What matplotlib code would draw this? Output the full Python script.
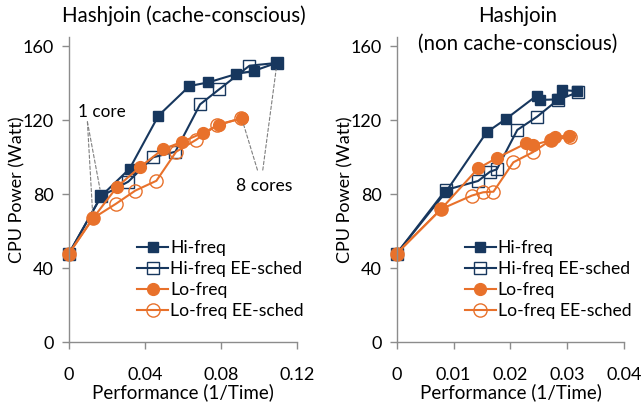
import numpy as np
import matplotlib.pyplot as plt

plt.rcParams['font.family'] = ['Lato', 'DejaVu Sans']

# idle point followed by 1..8 cores
# Hashjoin, cache-conscious
cc_hi_x = [0, 0.0170, 0.0319, 0.0471, 0.0634, 0.0734, 0.0880, 0.0976, 0.1095]
cc_hi_y = [48, 79.1, 93.8, 122.5, 138.5, 140.5, 145.0, 146.8, 151.1]
cc_hiee_x = [0, 0.0170, 0.0312, 0.0443, 0.0560, 0.0690, 0.0790, 0.0950, 0.1095]
cc_hiee_y = [48, 79.0, 86.8, 100.0, 103.0, 128.6, 136.7, 149.5, 151.0]
cc_lo_x = [0, 0.0126, 0.0254, 0.0372, 0.0494, 0.0596, 0.0708, 0.0787, 0.0909]
cc_lo_y = [48, 67.0, 84.1, 94.6, 104.3, 108.4, 113.3, 117.5, 121.1]
cc_loee_x = [0, 0.0126, 0.0249, 0.0349, 0.0460, 0.0564, 0.0670, 0.0780, 0.0906]
cc_loee_y = [48, 67.0, 75.0, 82.0, 87.3, 103.0, 109.5, 117.5, 121.0]

# Hashjoin, non cache-conscious
ncc_hi_x = [0, 0.0086, 0.0158, 0.0192, 0.0246, 0.0251, 0.0283, 0.0290, 0.0317]
ncc_hi_y = [48, 81.1, 113.5, 120.7, 133.3, 131.0, 131.3, 136.4, 135.7]
ncc_hiee_x = [0, 0.0086, 0.0143, 0.0164, 0.0176, 0.0212, 0.0247, 0.0283, 0.0318]
ncc_hiee_y = [48, 82.3, 87.2, 92.2, 93.5, 114.8, 122.0, 131.0, 135.1]
ncc_lo_x = [0, 0.0078, 0.0143, 0.0177, 0.0228, 0.0239, 0.0272, 0.0278, 0.0303]
ncc_lo_y = [48, 72.0, 94.0, 99.8, 107.6, 106.6, 109.3, 111.1, 111.7]
ncc_loee_x = [0, 0.0078, 0.0132, 0.0152, 0.0170, 0.0205, 0.0239, 0.0271, 0.0305]
ncc_loee_y = [48, 72.0, 79.3, 81.1, 81.4, 97.3, 102.7, 109.3, 111.1]

labels = ['Hi-freq', 'Hi-freq EE-sched', 'Lo-freq', 'Lo-freq EE-sched']
navy = '#17375E'
orange = '#E8712B'
grey = '#8C8C8C'

fig = plt.figure(figsize=(6.41, 4.09), dpi=100)
ax1 = fig.add_axes([0.1076, 0.163, 0.3557, 0.7465])
ax2 = fig.add_axes([0.6189, 0.163, 0.3550, 0.7465])


def draw(ax, series, xmax, xticks):
    styles = [
        dict(color=navy, marker='s', ms=7, mfc=navy, mec=navy),
        dict(color=navy, marker='s', ms=9, mfc='none', mec=navy, mew=1.0),
        dict(color=orange, marker='o', ms=8.5, mfc=orange, mec=orange),
        dict(color=orange, marker='o', ms=9.5, mfc='none', mec=orange, mew=1.0),
    ]
    for (x, y), st, lab in zip(series, styles, labels):
        ax.plot(x, y, lw=1.5, label=lab, clip_on=False, **st)
    ax.set_xlim(0, xmax)
    ax.set_ylim(0, 165)
    ax.set_yticks([0, 40, 80, 120, 160])
    ax.set_xticks(xticks)
    ax.set_xticklabels(['0' if t == 0 else f'{t:.2f}' for t in xticks])
    for s in ['top', 'right']:
        ax.spines[s].set_visible(False)
    for s in ['left', 'bottom']:
        ax.spines[s].set_color(grey)
        ax.spines[s].set_linewidth(1.0)
    ax.spines['bottom'].set_bounds(0, xmax)
    ax.tick_params(axis='y', length=5, width=1, color=grey, labelsize=13, pad=6)
    ax.tick_params(axis='x', length=5, width=1, color=grey, labelsize=13, pad=13)
    ax.set_xlabel('Performance (1/Time)', fontsize=13.5, labelpad=0)
    ax.set_ylabel('CPU Power (Watt)', fontsize=13, labelpad=-2)
    ax.legend(loc='lower left', bbox_to_anchor=(0.30, 0.075), frameon=False,
              fontsize=12.6, handlelength=1.75, handletextpad=0.12,
              labelspacing=0.3, borderaxespad=0, borderpad=0)


draw(ax1, [(cc_hi_x, cc_hi_y), (cc_hiee_x, cc_hiee_y), (cc_lo_x, cc_lo_y), (cc_loee_x, cc_loee_y)],
     0.12, [0, 0.04, 0.08, 0.12])
draw(ax2, [(ncc_hi_x, ncc_hi_y), (ncc_hiee_x, ncc_hiee_y), (ncc_lo_x, ncc_lo_y), (ncc_loee_x, ncc_loee_y)],
     0.04, [0, 0.01, 0.02, 0.03, 0.04])

fig.text(0.286, 0.962, 'Hashjoin (cache-conscious)', ha='center', va='center', fontsize=14.8)
fig.text(0.807, 0.962, 'Hashjoin', ha='center', va='center', fontsize=14.8)
fig.text(0.807, 0.893, '(non cache-conscious)', ha='center', va='center', fontsize=14.8)

# core-count callouts on the cache-conscious plot
dash = dict(arrowstyle='-', ls=(0, (3, 2)), color='#7F7F7F', lw=0.8, shrinkA=0, shrinkB=5)
ax1.text(0.0046, 124.5, '1 core', fontsize=12.3, va='center', ha='left')
ax1.annotate('', xy=(cc_hi_x[1], cc_hi_y[1]), xytext=(0.0097, 119.2), arrowprops=dash)
ax1.annotate('', xy=(cc_lo_x[1], cc_lo_y[1]), xytext=(0.0097, 119.2), arrowprops=dash)
ax1.text(0.103, 84.5, '8 cores', fontsize=12.6, va='center', ha='center')
ax1.annotate('', xy=(cc_lo_x[-1], cc_lo_y[-1]), xytext=(0.0992, 93.1), arrowprops=dash)
ax1.annotate('', xy=(cc_hi_x[-1], cc_hi_y[-1]), xytext=(0.102, 93.1), arrowprops=dash)

fig.savefig('out.png', dpi=100)
